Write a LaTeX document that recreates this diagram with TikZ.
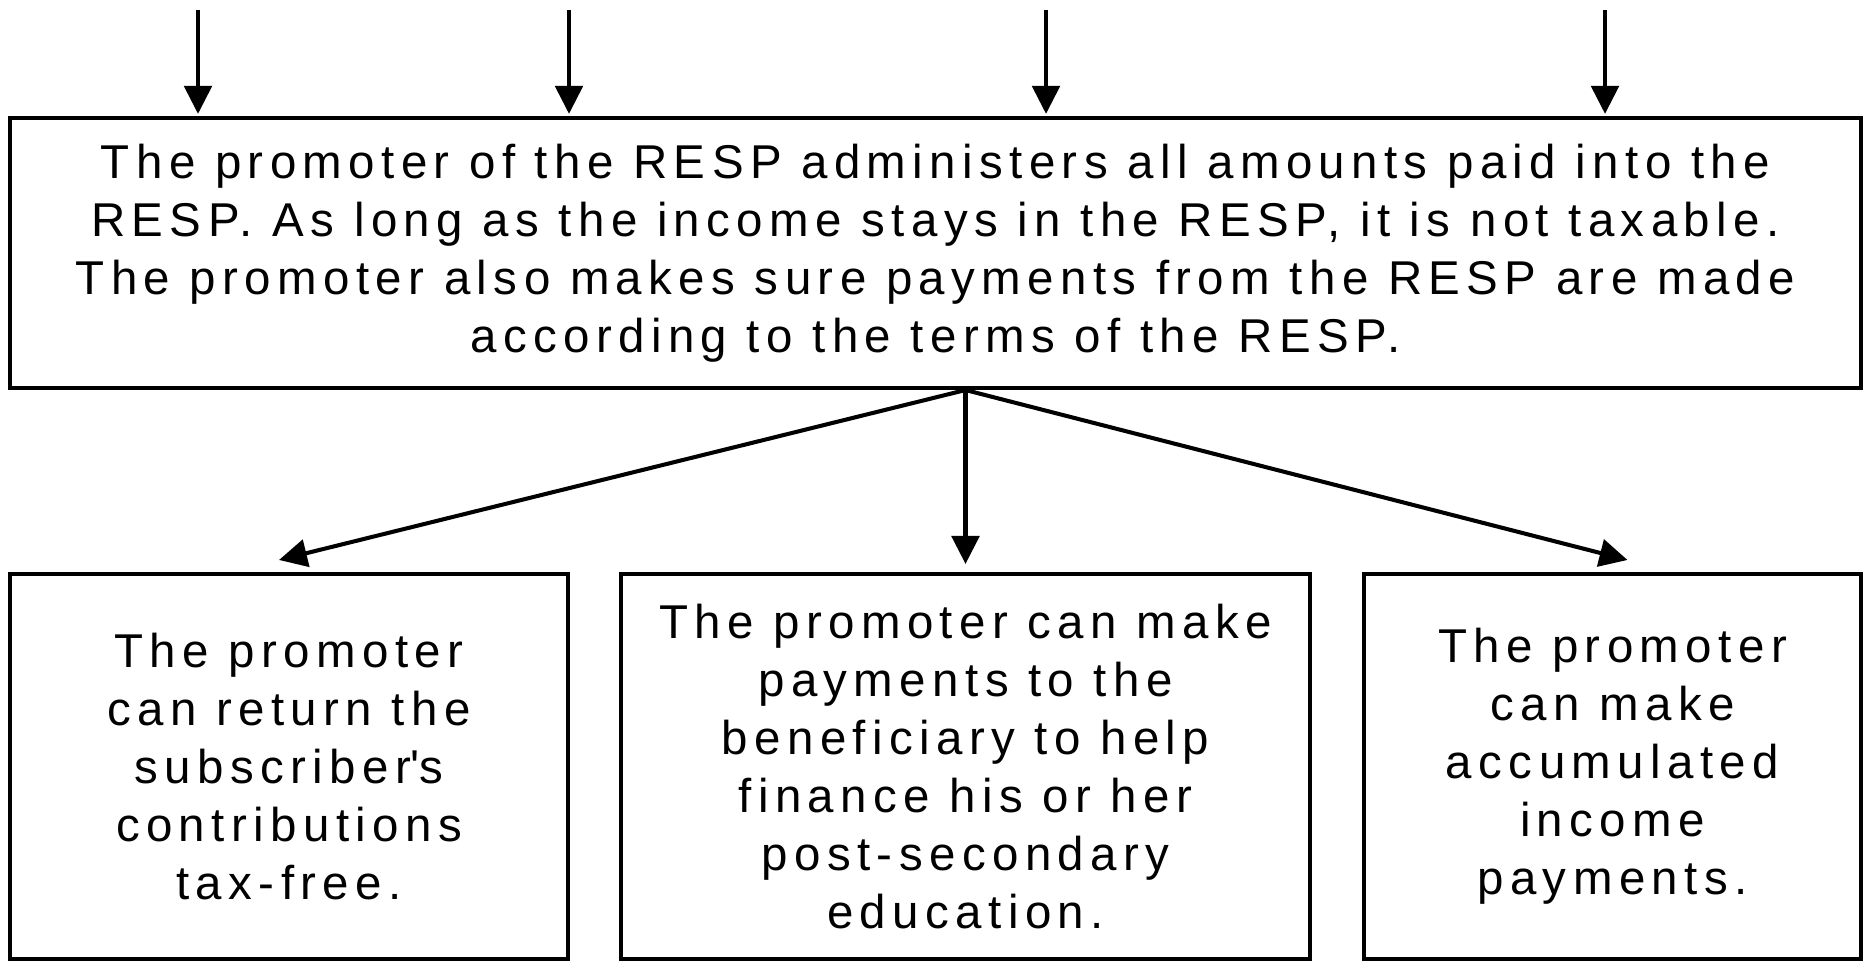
\documentclass[tikz,border=0pt]{standalone}
\usepackage{fontspec}
\setmainfont{Liberation Sans}[LetterSpace=13.5]
\usepackage{tikz}
\usetikzlibrary{positioning, calc, arrows.meta}

\tikzset{
    respbox/.style={draw, line width=2.3pt, align=center, inner sep=0pt,
        execute at begin node={\rule{0pt}{31pt}},
        font=\fontsize{27}{33}\selectfont},
    flow/.style={line width=2.3pt, -{Triangle[length=0.56cm, width=0.55cm]}}
}

\begin{document}
\begin{tikzpicture}

    % --- CANVAS ---
    % 1868 x 961 px, 50 px per cm
    \useasboundingbox (0,0) rectangle (37.36,19.22);

    % --- MAIN BOX ---
    \node[respbox, minimum width=37.02cm, minimum height=5.4cm] (resp) at (18.71,14.16)
        {The promoter of the RESP administers all amounts paid into the\\
         RESP. As long as the income stays in the RESP, it is not taxable.\\
         The promoter also makes sure payments from the RESP are made\\
         according to the terms of the RESP.};

    % --- BOTTOM BOXES ---
    \node[respbox, minimum width=11.16cm, minimum height=7.7cm] (ret) at (5.78,3.89)
        {The promoter\\ can return the\\ subscriber\textquotesingle s\\ contributions\\ tax-free.};
    \node[respbox, minimum width=13.78cm, minimum height=7.7cm] (pay) at (19.31,3.89)
        {The promoter can make\\ payments to the\\ beneficiary to help\\
         finance his or her\\ post-secondary\\ education.};
    \node[respbox, minimum width=9.94cm, minimum height=7.7cm] (acc) at (32.25,3.89)
        {The promoter\\ can make\\ accumulated\\ income\\ payments.};

    % --- INCOMING ARROWS (top) ---
    \foreach \x [count=\i] in {3.96, 11.38, 20.92, 32.1} {
        \coordinate (in\i) at (\x,19.02);
        \draw[flow] (in\i) -- ([yshift=1.2pt]in\i |- resp.north);
    }

    % --- OUTGOING ARROWS ---
    \coordinate (split) at (resp.south -| pay.north);
    \draw[flow] (split) -- ([shift={(-0.2,0.24)}]ret.north);
    \draw[flow] (split) -- ([yshift=0.16cm]split |- pay.north);
    \draw[flow] (split) -- ([shift={(0.3,0.24)}]acc.north);

\end{tikzpicture}
\end{document}
